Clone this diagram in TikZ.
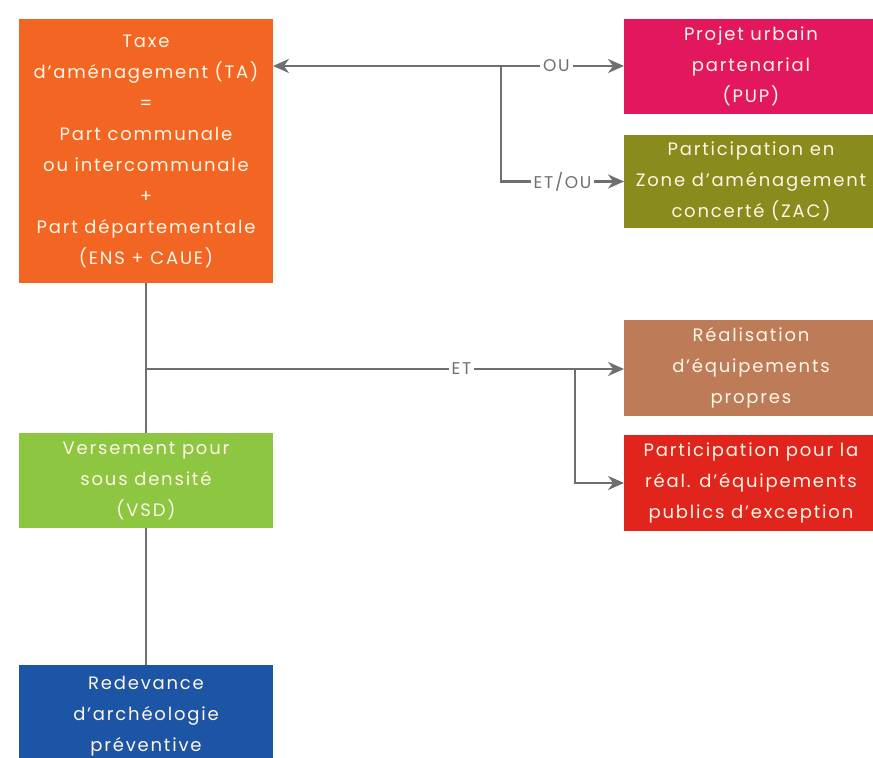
\documentclass[tikz,border=0pt]{standalone}
\usepackage{fontspec}
\setmainfont{Poppins}[LetterSpace=10]
\usetikzlibrary{positioning, arrows.meta}

\definecolor{taorange}{HTML}{F26522}
\definecolor{puppink}{HTML}{E3175D}
\definecolor{zacolive}{HTML}{8A8B1D}
\definecolor{realbrown}{HTML}{BD7B58}
\definecolor{partred}{HTML}{E1251C}
\definecolor{vsdgreen}{HTML}{8DC641}
\definecolor{rapblue}{HTML}{1D55A6}
\definecolor{linegrey}{HTML}{6E6F72}
\definecolor{boxtext}{HTML}{FFF6E6}

\begin{document}
\begin{tikzpicture}[x=0.5pt, y=-0.5pt, node distance=10pt,
  box/.style={rectangle, minimum width=127pt, inner sep=0pt, outer sep=0pt,
    align=center, text=boxtext, font=\fontsize{9}{15.5}\selectfont},
  link/.style={draw=linegrey, line width=1.4pt},
  arr/.style={link, -{Stealth[length=8pt, width=7pt]}},
  tag/.style={fill=white, text=linegrey, inner sep=1.5pt,
    font=\fontsize{8.5}{9}\selectfont}]

\useasboundingbox (0,0) rectangle (873,758);

% left column
\node[box, fill=taorange, minimum height=132pt, anchor=north west] (ta) at (19,19)
  {Taxe\\d'aménagement (TA)\\=\\Part communale\\ou intercommunale\\+\\Part départementale\\(ENS + CAUE)};
\node[box, fill=vsdgreen, minimum height=47.5pt] (vsd) [below=75pt of ta]
  {Versement pour\\sous densité\\(VSD)};
\node[box, fill=rapblue, minimum height=51pt] (rap) [below=68.5pt of vsd]
  {Redevance\\d'archéologie\\préventive};

% right column
\node[box, fill=puppink, minimum height=47.5pt, anchor=north west] (pup) at (624,19)
  {Projet urbain\\partenarial\\(PUP)};
\node[box, fill=zacolive, minimum height=46.5pt] (zac) [below=10.5pt of pup]
  {Participation en\\Zone d'aménagement\\concerté (ZAC)};
\node[box, fill=realbrown, minimum height=48pt] (real) [below=46pt of zac]
  {Réalisation\\d'équipements\\propres};
\node[box, fill=partred, minimum height=48pt] (part) [below=9.5pt of real]
  {Participation pour la\\réal. d'équipements\\publics d'exception};

% connectors
\coordinate (fork) at (501,66);
\coordinate (split) at (575,369);

\draw[arr] (fork) -- (ta.east |- fork);
\draw[arr] (fork) -- node[tag, pos=0.45] {OU} (pup.west |- fork);
\draw[arr] (fork) |- node[tag, pos=0.75] {ET/OU} (zac.west);

\draw[link] (ta.south) -- (vsd.north);
\draw[link] (vsd.south) -- (rap.north);
\draw[arr] (ta.south |- split) -- node[tag, pos=0.66] {ET} (real.west |- split);
\draw[arr] (split) |- (part.west);

\end{tikzpicture}
\end{document}
